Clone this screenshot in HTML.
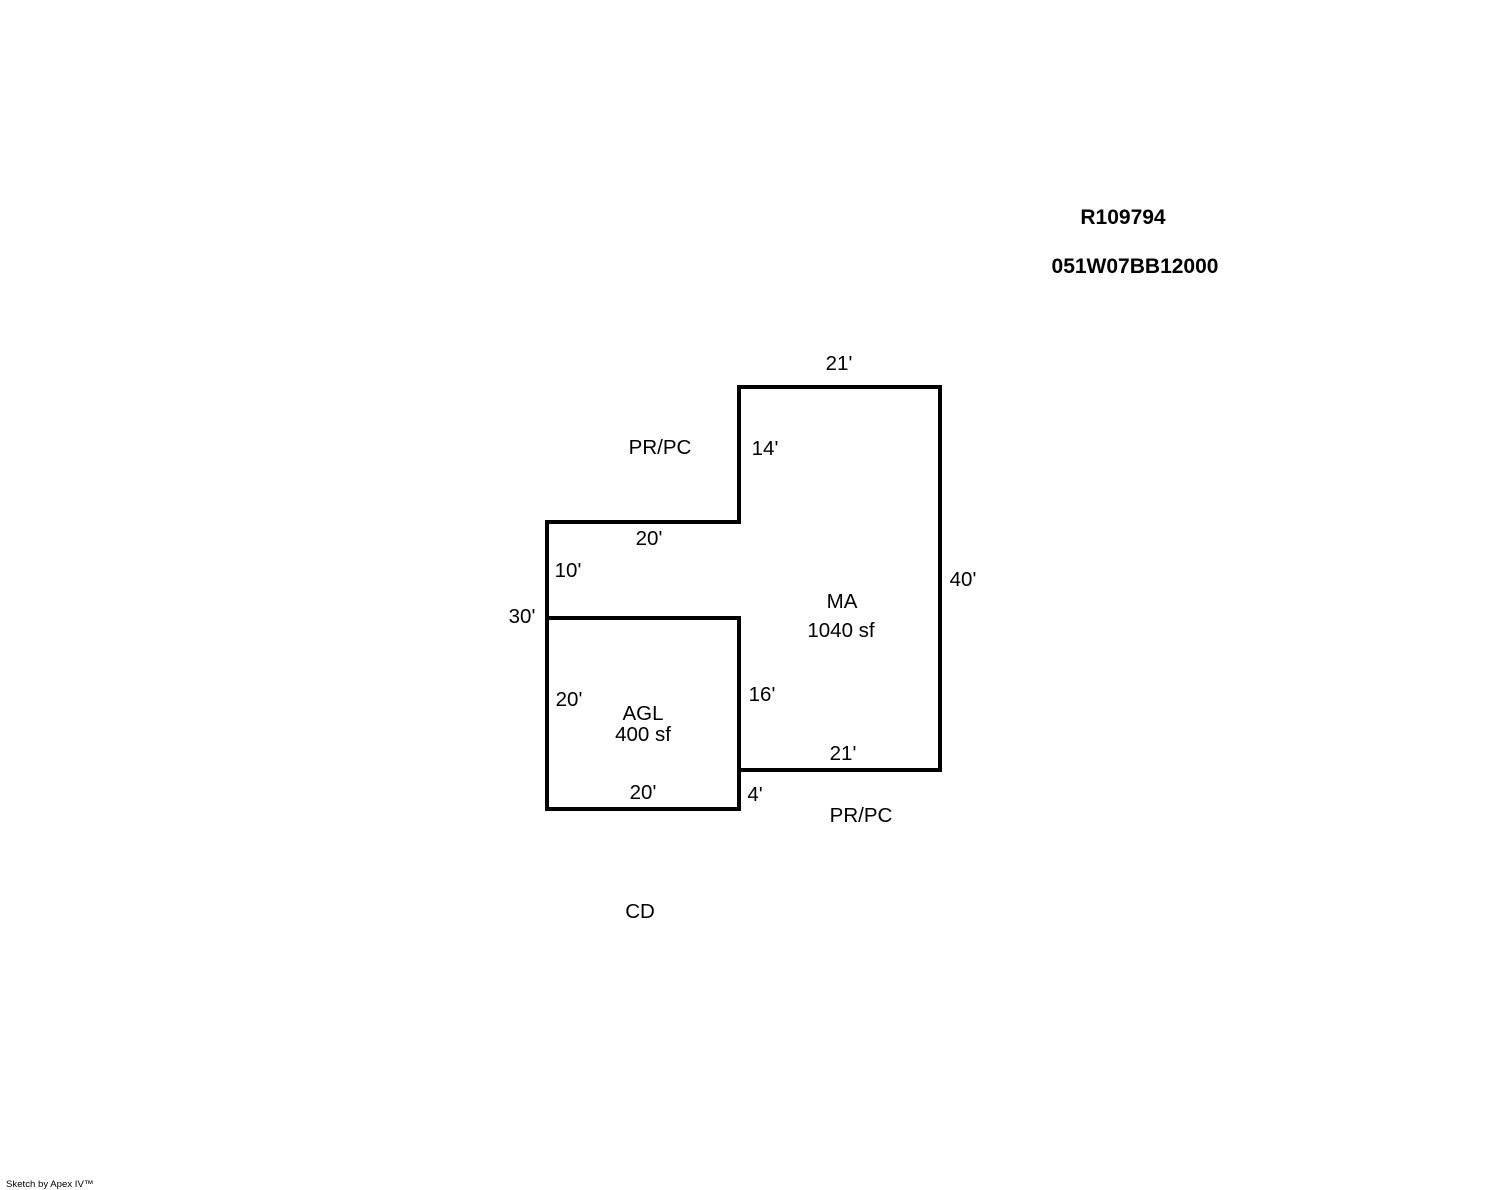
<!DOCTYPE html>
<html><head><meta charset="utf-8"><style>
html,body{margin:0;padding:0;background:#fff;}
svg{display:block;}
text{font-family:"Liberation Sans",Arial,sans-serif;font-size:20.5px;fill:#000;}
</style></head><body>
<svg width="1488" height="1190" viewBox="0 0 1488 1190" xmlns="http://www.w3.org/2000/svg">
<g fill="none" stroke="#000" stroke-width="4" stroke-linecap="square">
<path d="M739,522 L739,387 L940,387 L940,770 L739,770"/>
<path d="M739,522 L547,522 L547,809 L739,809 L739,618 L547,618"/>
</g>
<g text-anchor="middle">
<text x="1123" y="224" font-weight="bold" style="font-size:21px">R109794</text>
<text x="1135" y="273" font-weight="bold" style="font-size:21px">051W07BB12000</text>
<text x="839" y="370">21'</text>
<text x="660" y="454">PR/PC</text>
<text x="765" y="455">14'</text>
<text x="649" y="545">20'</text>
<text x="568" y="577">10'</text>
<text x="963" y="586">40'</text>
<text x="522" y="623">30'</text>
<text x="842" y="608">MA</text>
<text x="841" y="637">1040 sf</text>
<text x="762" y="701">16'</text>
<text x="569" y="706">20'</text>
<text x="643" y="720">AGL</text>
<text x="643" y="741">400 sf</text>
<text x="843" y="760">21'</text>
<text x="643" y="799">20'</text>
<text x="755" y="801">4'</text>
<text x="861" y="822">PR/PC</text>
<text x="640" y="918">CD</text>
</g>
<text x="6" y="1187" style="font-size:9.6px">Sketch by Apex IV™</text>
</svg>
</body></html>
